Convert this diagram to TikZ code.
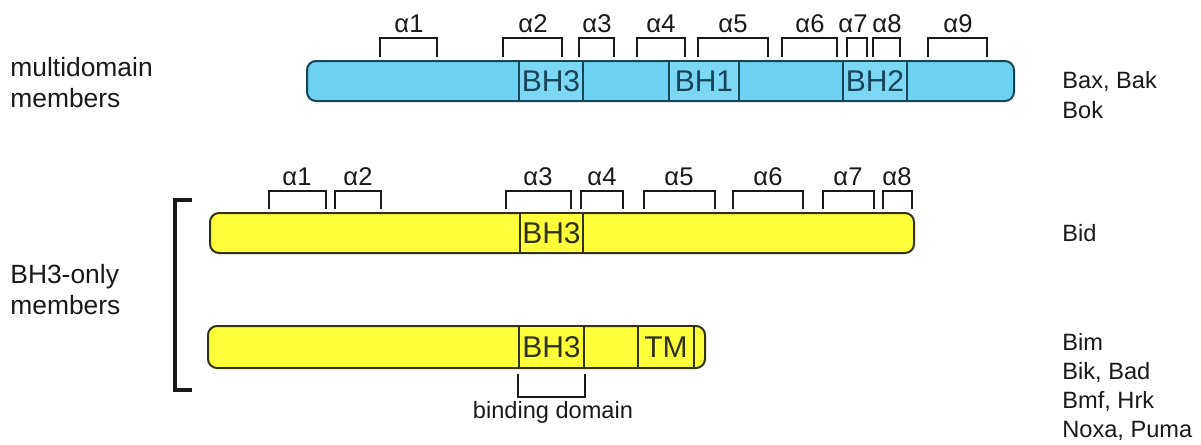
\documentclass[tikz,border=0pt]{standalone}
\usepackage{fontspec}
\setmainfont{Liberation Sans}
\usetikzlibrary{positioning}

\definecolor{barblue}{RGB}{108,210,240}
\definecolor{bhblue}{RGB}{124,216,242}
\definecolor{blueline}{RGB}{22,68,88}
\definecolor{baryellow}{RGB}{255,255,58}
\definecolor{yellowline}{RGB}{50,50,16}
\definecolor{ink}{RGB}{25,25,25}

\tikzset{
  helix/.style={ink, line width=1pt},
  bluebar/.style={draw=blueline, fill=barblue, line width=1pt, rounded corners=4.5pt},
  yellowbar/.style={draw=yellowline, fill=baryellow, line width=1pt, rounded corners=4.5pt},
  domainbox/.style={draw, line width=0.9pt, minimum height=20pt, inner sep=0pt,
    font=\fontsize{15}{15}\selectfont},
  bluedomain/.style={domainbox, draw=blueline, fill=bhblue, text=blueline},
  yellowdomain/.style={domainbox, draw=yellowline, fill=baryellow, text=yellowline},
  helixlabel/.style={ink, anchor=base, inner sep=0pt, font=\fontsize{12.8}{12.8}\selectfont},
  grouplabel/.style={ink, anchor=base west, inner sep=0pt, font=\fontsize{13.2}{13.2}\selectfont},
  memberlabel/.style={ink, anchor=base west, inner sep=0pt, font=\fontsize{11.8}{11.8}\selectfont},
}

\begin{document}
\begin{tikzpicture}[x=0.5pt, y=-0.5pt]
\useasboundingbox (0,0) rectangle (1201,445);

% --- Multidomain members ---
\node[grouplabel] (multi-1) at (10,76)  {multidomain};
\node[grouplabel] (multi-2) at (10,107) {members};

\draw[bluebar] (307,61) rectangle (1014,101);
\node[bluedomain, minimum width=32pt] (bax-bh3) at (551,81) {BH3};
\node[bluedomain, minimum width=35pt] (bax-bh1) at (704,81) {BH1};
\node[bluedomain, minimum width=32pt] (bax-bh2) at (875,81) {BH2};

% helices above the blue bar (left/right/label x)
\foreach \l/\r/\lx [count=\i] in {
  380/437/409,
  503/562/533,
  579/614/597,
  637/685/661,
  698/768/733,
  782/837/810,
  847/867/853,
  873/900/887,
  928/987/958
}{
  \draw[helix] (\l,57) -- (\l,38) -- (\r,38) -- (\r,57);
  \node[helixlabel] (bax-a\i) at (\lx,32) {α\i};
}

\node[memberlabel] (bax-1) at (1062,88)  {Bax, Bak};
\node[memberlabel] (bax-2) at (1062,118) {Bok};

% --- BH3-only members ---
\node[grouplabel] (only-1) at (10,283) {BH3-only};
\node[grouplabel] (only-2) at (10,314) {members};

\draw[ink, line width=1.6pt] (192,200) -- (175,200) -- (175,390) -- (192,390);

% Bid
\draw[yellowbar] (210,213) rectangle (914,253);
\node[yellowdomain, minimum width=31.5pt] (bid-bh3) at (551.5,233) {BH3};

\foreach \l/\r/\lx [count=\i] in {
  269/326/297,
  335/381/358,
  506/571/538,
  581/623/602,
  644/715/679,
  733/803/768,
  823/874/848,
  883/912/897
}{
  \draw[helix] (\l,209) -- (\l,191) -- (\r,191) -- (\r,209);
  \node[helixlabel] (bid-a\i) at (\lx,185) {α\i};
}

\node[memberlabel] (bid) at (1062,241) {Bid};

% Bim and the others
\draw[yellowbar] (208,326) rectangle (705,368);
\node[yellowdomain, minimum width=32.5pt, minimum height=21pt] (bim-bh3) at (551.5,347) {BH3};
\node[yellowdomain, minimum width=28pt, minimum height=21pt]   (bim-tm)  at (666,347)   {TM};

\draw[helix] ([yshift=-2.5pt]bim-bh3.south west) -- ++(0,-11.5pt) -| ([yshift=-2.5pt]bim-bh3.south east);
\node[memberlabel, anchor=base] (bind) at (553,418) {binding domain};

\foreach \txt/\yb [count=\i] in {Bim/350, {Bik, Bad}/379, {Bmf, Hrk}/408, {Noxa, Puma}/437}
  \node[memberlabel] (bim-\i) at (1062,\yb) {\txt};

\end{tikzpicture}
\end{document}
